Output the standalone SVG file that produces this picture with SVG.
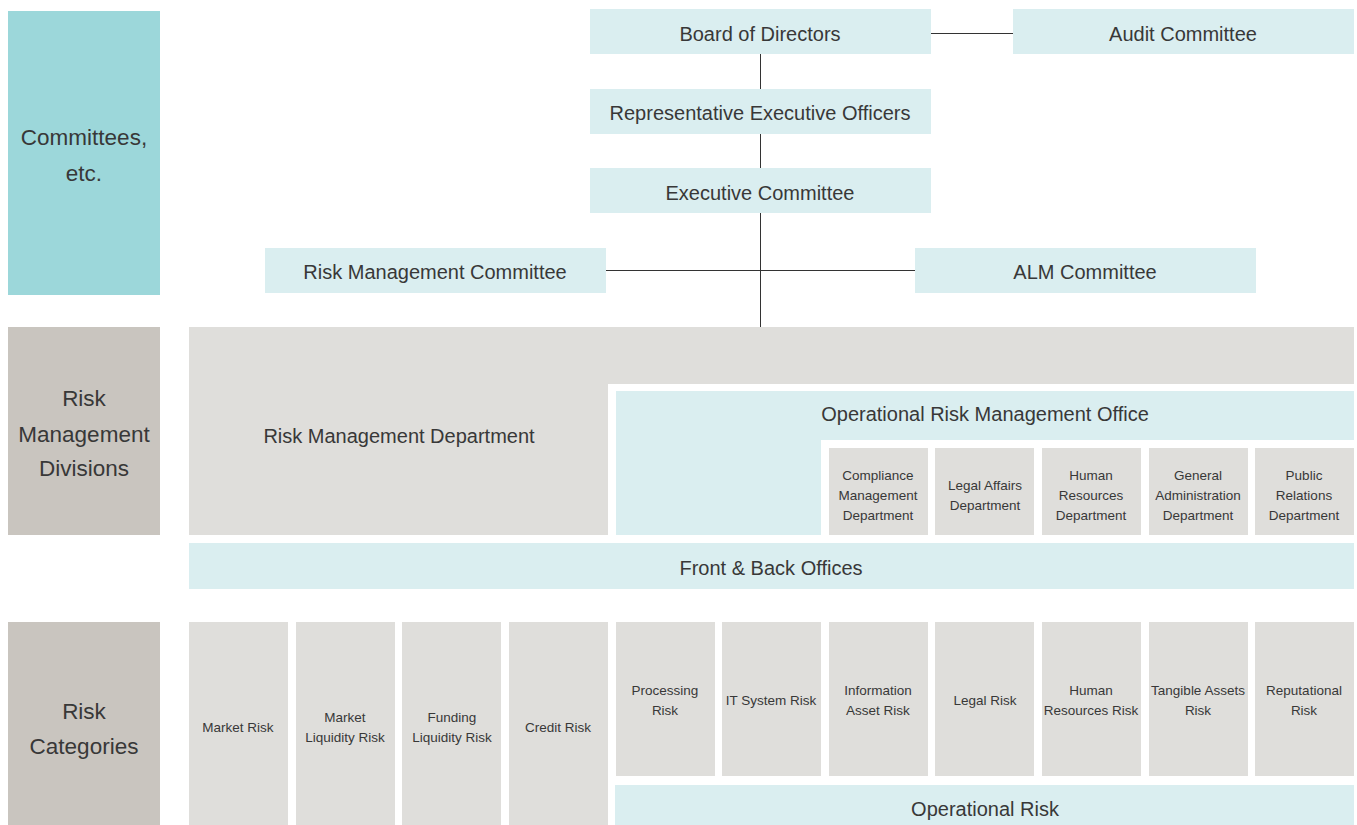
<svg xmlns="http://www.w3.org/2000/svg" width="1357" height="825" viewBox="0 0 1357 825">
<style>
text{font-family:"Liberation Sans",Arial,sans-serif;fill:#383838;text-anchor:middle}
.lb{fill:#daeef0}
.gr{fill:#dfdedb}
.tl{fill:#9cd7da}
.dg{fill:#c9c5bf}
.t18{font-size:20px}
.t20{font-size:22.5px}
.t13{font-size:13.5px}
.ln{stroke:#333;stroke-width:1;fill:none}
</style>
<rect width="1357" height="825" fill="#fff"/>
<g id="label-committees"><rect class="tl" x="8" y="11" width="152" height="284"/><text class="t20" x="84" y="145">Committees,</text><text class="t20" x="84" y="181">etc.</text></g>
<g id="label-divisions"><rect class="dg" x="8" y="327" width="152" height="208"/><text class="t20" x="84" y="406">Risk</text><text class="t20" x="84" y="442">Management</text><text class="t20" x="84" y="476">Divisions</text></g>
<g id="label-categories"><rect class="dg" x="8" y="622" width="152" height="203"/><text class="t20" x="84" y="719">Risk</text><text class="t20" x="84" y="754">Categories</text></g>
<g id="connectors">
<line class="ln" x1="931" y1="33.5" x2="1013" y2="33.5"/>
<line class="ln" x1="760.5" y1="54" x2="760.5" y2="327"/>
<line class="ln" x1="606" y1="270.5" x2="915" y2="270.5"/>
</g>
<g id="board"><rect class="lb" x="590" y="9" width="341" height="45"/><text class="t18" x="760" y="41">Board of Directors</text></g>
<g id="audit"><rect class="lb" x="1013" y="9" width="341" height="45"/><text class="t18" x="1183" y="41">Audit Committee</text></g>
<g id="rep-exec"><rect class="lb" x="590" y="89" width="341" height="45"/><text class="t18" x="760" y="120">Representative Executive Officers</text></g>
<g id="exec-committee"><rect class="lb" x="590" y="168" width="341" height="45"/><text class="t18" x="760" y="200">Executive Committee</text></g>
<g id="rmc"><rect class="lb" x="265" y="248" width="341" height="45"/><text class="t18" x="435" y="279">Risk Management Committee</text></g>
<g id="alm"><rect class="lb" x="915" y="248" width="341" height="45"/><text class="t18" x="1085" y="279">ALM Committee</text></g>
<g id="rmd"><polygon class="gr" points="189,327 1354,327 1354,384 608,384 608,535 189,535"/><text class="t18" x="399" y="443">Risk Management Department</text></g>
<g id="ormo"><polygon class="lb" points="616,391 1354,391 1354,440 821,440 821,535 616,535"/><text class="t18" x="985" y="421">Operational Risk Management Office</text></g>
<g id="dept-compliance"><rect class="gr" x="829" y="448" width="99" height="87"/><text class="t13" x="878" y="480">Compliance</text><text class="t13" x="878" y="500">Management</text><text class="t13" x="878" y="520">Department</text></g>
<g id="dept-legal"><rect class="gr" x="935" y="448" width="99" height="87"/><text class="t13" x="985" y="490">Legal Affairs</text><text class="t13" x="985" y="510">Department</text></g>
<g id="dept-hr"><rect class="gr" x="1042" y="448" width="99" height="87"/><text class="t13" x="1091" y="480">Human</text><text class="t13" x="1091" y="500">Resources</text><text class="t13" x="1091" y="520">Department</text></g>
<g id="dept-ga"><rect class="gr" x="1149" y="448" width="99" height="87"/><text class="t13" x="1198" y="480">General</text><text class="t13" x="1198" y="500">Administration</text><text class="t13" x="1198" y="520">Department</text></g>
<g id="dept-pr"><rect class="gr" x="1255" y="448" width="99" height="87"/><text class="t13" x="1304" y="480">Public</text><text class="t13" x="1304" y="500">Relations</text><text class="t13" x="1304" y="520">Department</text></g>
<g id="front-back"><rect class="lb" x="189" y="543" width="1165" height="46"/><text class="t18" x="771" y="575">Front &amp; Back Offices</text></g>
<g id="risk-market"><rect class="gr" x="189" y="622" width="99" height="203"/><text class="t13" x="238" y="732">Market Risk</text></g>
<g id="risk-mliq"><rect class="gr" x="296" y="622" width="99" height="203"/><text class="t13" x="345" y="722">Market</text><text class="t13" x="345" y="742">Liquidity Risk</text></g>
<g id="risk-fliq"><rect class="gr" x="402" y="622" width="99" height="203"/><text class="t13" x="452" y="722">Funding</text><text class="t13" x="452" y="742">Liquidity Risk</text></g>
<g id="risk-credit"><rect class="gr" x="509" y="622" width="99" height="203"/><text class="t13" x="558" y="732">Credit Risk</text></g>
<g id="risk-processing"><rect class="gr" x="616" y="622" width="99" height="154"/><text class="t13" x="665" y="695">Processing</text><text class="t13" x="665" y="715">Risk</text></g>
<g id="risk-it"><rect class="gr" x="722" y="622" width="99" height="154"/><text class="t13" x="771" y="705">IT System Risk</text></g>
<g id="risk-info"><rect class="gr" x="829" y="622" width="99" height="154"/><text class="t13" x="878" y="695">Information</text><text class="t13" x="878" y="715">Asset Risk</text></g>
<g id="risk-legal"><rect class="gr" x="935" y="622" width="99" height="154"/><text class="t13" x="985" y="705">Legal Risk</text></g>
<g id="risk-hr"><rect class="gr" x="1042" y="622" width="99" height="154"/><text class="t13" x="1091" y="695">Human</text><text class="t13" x="1091" y="715">Resources Risk</text></g>
<g id="risk-tangible"><rect class="gr" x="1149" y="622" width="99" height="154"/><text class="t13" x="1198" y="695">Tangible Assets</text><text class="t13" x="1198" y="715">Risk</text></g>
<g id="risk-reputational"><rect class="gr" x="1255" y="622" width="99" height="154"/><text class="t13" x="1304" y="695">Reputational</text><text class="t13" x="1304" y="715">Risk</text></g>
<g id="operational-risk"><rect class="lb" x="615" y="785" width="739" height="40"/><text class="t18" x="985" y="816">Operational Risk</text></g>
</svg>
